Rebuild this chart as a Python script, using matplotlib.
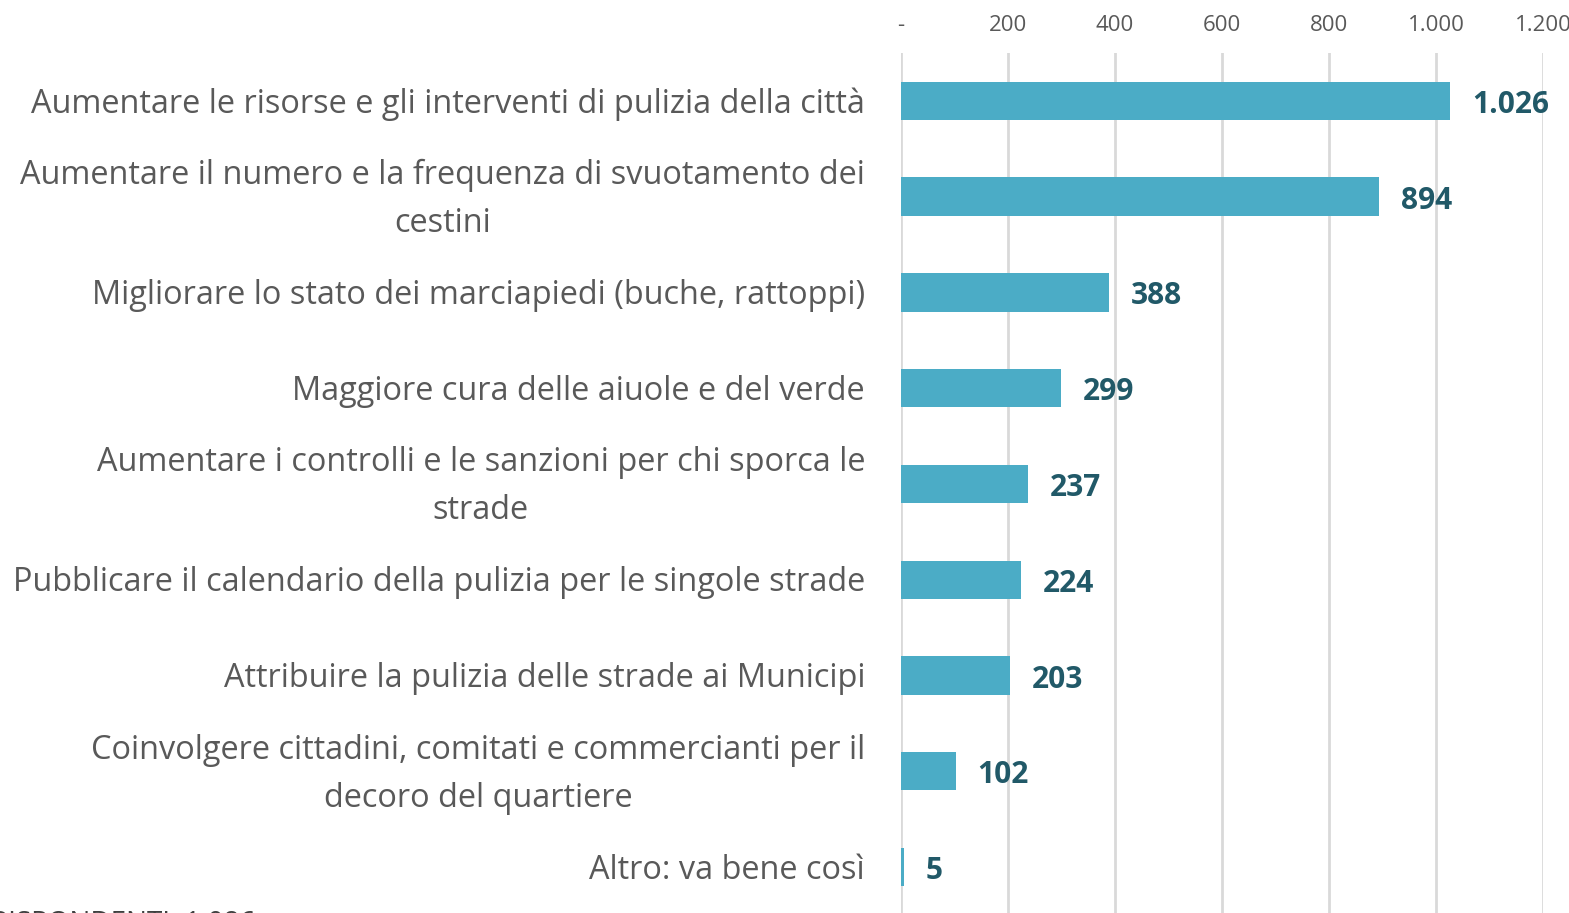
import matplotlib.pyplot as plt
from matplotlib.ticker import FuncFormatter

# Data
categories = [
    'Aumentare le risorse e gli interventi di pulizia della città',
    'Aumentare il numero e la frequenza di svuotamento dei\ncestini',
    'Migliorare lo stato dei marciapiedi (buche, rattoppi)',
    'Maggiore cura delle aiuole e del verde',
    'Aumentare i controlli e le sanzioni per chi sporca le\nstrade',
    'Pubblicare il calendario della pulizia per le singole strade',
    'Attribuire la pulizia delle strade ai Municipi',
    'Coinvolgere cittadini, comitati e commercianti per il\ndecoro del quartiere',
    'Altro: va bene così',
]
values = [1026, 894, 388, 299, 237, 224, 203, 102, 5]
x_ticks = [0, 200, 400, 600, 800, 1000, 1200]


def fmt_it(v, pos=None):
    if v == 0:
        return '-'
    return f'{int(v):,}'.replace(',', '.')


fig = plt.figure(figsize=(15.69, 9.13), dpi=100)
ax = fig.add_axes([0.5743, -0.0022, 0.4091, 0.9442])

y = list(range(len(categories)))
ax.barh(y, values, height=0.4, color='#4BACC6', zorder=3)
ax.set_ylim(len(categories) - 0.5, -0.5)
ax.set_xlim(0, 1200)

ax.set_xticks(x_ticks)
ax.xaxis.set_major_formatter(FuncFormatter(fmt_it))
ax.xaxis.tick_top()
ax.tick_params(axis='x', length=0, pad=12, labelsize=16, labelcolor='#595959')
for t in ax.get_xticklabels():
    t.set_fontfamily('Open Sans')

ax.set_yticks([])
ax.grid(axis='x', color='#D9D9D9', linewidth=2, zorder=0)
for s in ax.spines.values():
    s.set_visible(False)

# category labels
for yi, cat in zip(y, categories):
    ax.annotate(cat, xy=(0, yi), xycoords='data', xytext=(-36, -3),
                textcoords='offset pixels', ha='right', va='center',
                multialignment='center', fontsize=23.4, color='#595959',
                family='Open Sans', linespacing=1.6)

# value labels
for yi, v in zip(y, values):
    ax.annotate(fmt_it(v), xy=(v, yi), xycoords='data', xytext=(22, -4),
                textcoords='offset pixels', ha='left', va='center',
                fontsize=21.5, fontweight='bold', color='#215968',
                family='Open Sans')

# note cut off at the bottom edge, as in the source image
fig.text(-0.006, -0.027, 'RISPONDENTI: 1.086', fontsize=20, color='#404040',
         family='Open Sans', ha='left', va='bottom')

plt.savefig('out.png', dpi=100)
